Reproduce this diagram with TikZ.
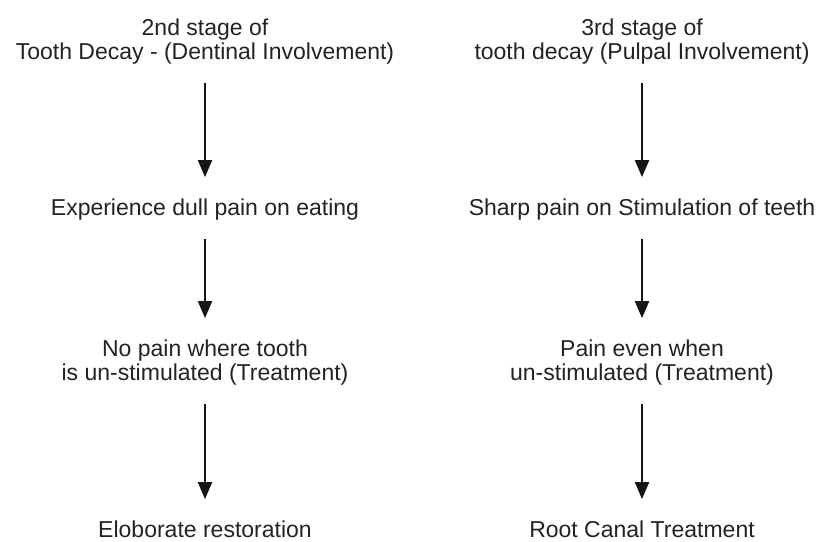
\documentclass[tikz,border=0pt]{standalone}
\usepackage{fontspec}
\setmainfont{Liberation Sans}
\usetikzlibrary{arrows.meta}
\definecolor{ink}{HTML}{232323}
\definecolor{lineink}{HTML}{151515}
\begin{document}
\begin{tikzpicture}[x=1pt,y=-1pt,
  % multi-line labels are placed by the baseline of their last line
  label/.style={anchor=base,inner sep=0pt,align=center,text=ink,
    font=\fontsize{23}{24}\selectfont},
  flow/.style={draw=lineink,line width=1.9pt,
    -{Triangle[length=17pt,width=14pt]},
    shorten <=19pt,shorten >=21pt}]
  \useasboundingbox[fill=white] (0,0) rectangle (827,541);

  % left column: dentinal involvement
  \node[label] (l1) at (205,59) {2nd stage of\\Tooth Decay - (Dentinal Involvement)};
  \node[label] (l2) at (205,215) {Experience dull pain on eating};
  \node[label] (l3) at (205,380) {No pain where tooth\\is un-stimulated (Treatment)};
  \node[label] (l4) at (205,537) {Eloborate restoration};

  % right column: pulpal involvement
  \node[label] (r1) at (642,59) {3rd stage of\\tooth decay (Pulpal Involvement)};
  \node[label] (r2) at (642,215) {Sharp pain on Stimulation of teeth};
  \node[label] (r3) at (642,380) {Pain even when\\un-stimulated (Treatment)};
  \node[label] (r4) at (642,537) {Root Canal Treatment};

  \draw[flow] (l1.south) -- (l2.north);
  \draw[flow] (l2.south) -- (l3.north);
  \draw[flow] (l3.south) -- (l4.north);
  \draw[flow] (r1.south) -- (r2.north);
  \draw[flow] (r2.south) -- (r3.north);
  \draw[flow] (r3.south) -- (r4.north);
\end{tikzpicture}
\end{document}
